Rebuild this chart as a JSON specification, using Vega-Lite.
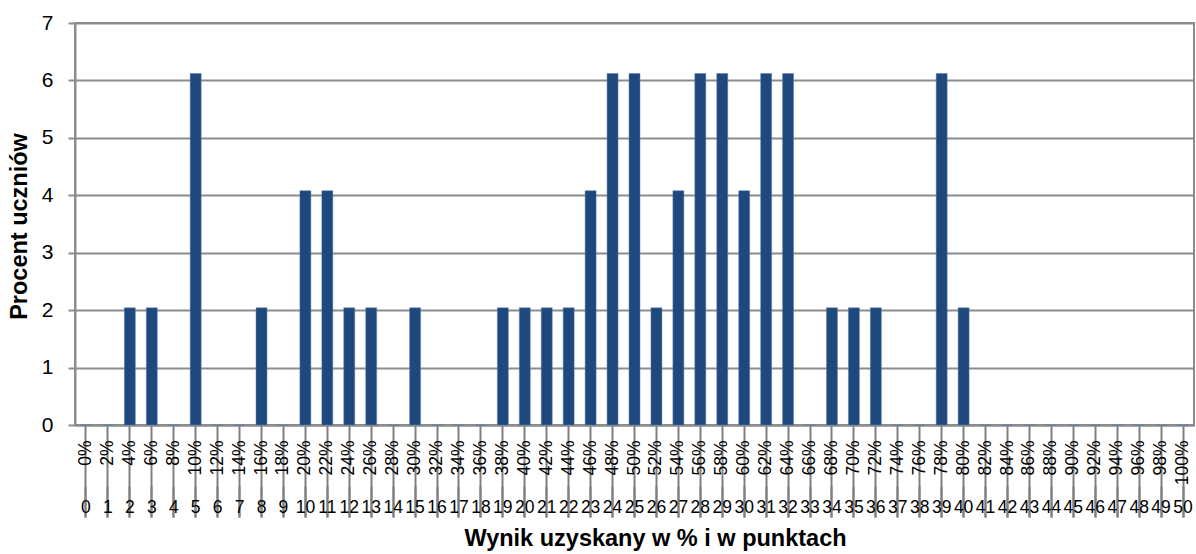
{
  "$schema": "https://vega.github.io/schema/vega-lite/v6.json",
  "autosize": {"type": "none"},
  "padding": {"left": 75, "top": 23, "right": 2, "bottom": 129},
  "width": 1119,
  "height": 402,
  "background": "white",
  "config": {
    "font": "Liberation Sans",
    "view": {"stroke": "#8c8c8c", "strokeWidth": 2},
    "axis": {"labelFont": "Liberation Sans", "titleFont": "Liberation Sans", "labelColor": "black", "titleColor": "black"}
  },
  "data": {"values": [
    {"pkt": 0, "procent": 0}, {"pkt": 1, "procent": 0}, {"pkt": 2, "procent": 2.04}, {"pkt": 3, "procent": 2.04},
    {"pkt": 4, "procent": 0}, {"pkt": 5, "procent": 6.12}, {"pkt": 6, "procent": 0}, {"pkt": 7, "procent": 0},
    {"pkt": 8, "procent": 2.04}, {"pkt": 9, "procent": 0}, {"pkt": 10, "procent": 4.08}, {"pkt": 11, "procent": 4.08},
    {"pkt": 12, "procent": 2.04}, {"pkt": 13, "procent": 2.04}, {"pkt": 14, "procent": 0}, {"pkt": 15, "procent": 2.04},
    {"pkt": 16, "procent": 0}, {"pkt": 17, "procent": 0}, {"pkt": 18, "procent": 0}, {"pkt": 19, "procent": 2.04},
    {"pkt": 20, "procent": 2.04}, {"pkt": 21, "procent": 2.04}, {"pkt": 22, "procent": 2.04}, {"pkt": 23, "procent": 4.08},
    {"pkt": 24, "procent": 6.12}, {"pkt": 25, "procent": 6.12}, {"pkt": 26, "procent": 2.04}, {"pkt": 27, "procent": 4.08},
    {"pkt": 28, "procent": 6.12}, {"pkt": 29, "procent": 6.12}, {"pkt": 30, "procent": 4.08}, {"pkt": 31, "procent": 6.12},
    {"pkt": 32, "procent": 6.12}, {"pkt": 33, "procent": 0}, {"pkt": 34, "procent": 2.04}, {"pkt": 35, "procent": 2.04},
    {"pkt": 36, "procent": 2.04}, {"pkt": 37, "procent": 0}, {"pkt": 38, "procent": 0}, {"pkt": 39, "procent": 6.12},
    {"pkt": 40, "procent": 2.04}, {"pkt": 41, "procent": 0}, {"pkt": 42, "procent": 0}, {"pkt": 43, "procent": 0},
    {"pkt": 44, "procent": 0}, {"pkt": 45, "procent": 0}, {"pkt": 46, "procent": 0}, {"pkt": 47, "procent": 0},
    {"pkt": 48, "procent": 0}, {"pkt": 49, "procent": 0}, {"pkt": 50, "procent": 0}
  ]},
  "layer": [
    {
      "mark": {"type": "bar", "color": "#1F497D", "stroke": "#5b7fb0", "strokeWidth": 0.5},
      "encoding": {
        "x": {
          "field": "pkt", "type": "ordinal",
          "scale": {"paddingInner": 0.5, "paddingOuter": 0.25},
          "axis": {
            "orient": "bottom",
            "title": null,
            "ticks": true,
            "tickBand": "extra",
            "tickSize": 92, "tickColor": "#7f7f7f", "tickWidth": 2,
            "domainColor": "#8c8c8c", "domainWidth": 2,
            "labelAngle": -90, "labelAlign": "right", "labelBaseline": "middle",
            "labelPadding": -77, "labelFontSize": 17.5,
            "labelExpr": "(datum.value * 2) + '%'",
            "labelOverlap": false
          }
        },
        "y": {
          "field": "procent", "type": "quantitative",
          "scale": {"domain": [0, 7], "nice": false},
          "axis": {
            "title": "Procent uczniów",
            "titleFontSize": 23.5, "titleFontWeight": "bold",
            "titleX": -56, "titleY": 203, "titleBaseline": "middle", "titleAlign": "center", "titleAngle": -90,
            "values": [0, 1, 2, 3, 4, 5, 6, 7],
            "format": "d",
            "labelFontSize": 21, "labelPadding": 15,
            "tickSize": 7, "tickColor": "#8c8c8c", "tickWidth": 2,
            "domainColor": "#8c8c8c", "domainWidth": 2,
            "grid": true, "gridColor": "#8c8c8c", "gridWidth": 2
          }
        }
      }
    },
    {
      "mark": {"type": "bar", "opacity": 0},
      "encoding": {
        "x": {
          "field": "pkt", "type": "ordinal",
          "scale": {"paddingInner": 0.5, "paddingOuter": 0.25},
          "axis": {
            "orient": "bottom",
            "title": "Wynik uzyskany w % i w punktach",
            "titleFontSize": 23.5, "titleFontWeight": "bold",
            "titleX": 580, "titleY": 52, "titleBaseline": "middle", "titleAlign": "center",
            "offset": 61,
            "domain": false,
            "ticks": true,
            "tickBand": "extra",
            "tickSize": 31, "tickColor": "#7f7f7f", "tickWidth": 2,
            "labelAngle": 0, "labelAlign": "center", "labelBaseline": "middle",
            "labelPadding": -10, "labelFontSize": 17.5,
            "labelOverlap": false
          }
        },
        "y": {"field": "procent", "type": "quantitative"}
      }
    }
  ],
  "resolve": {"axis": {"x": "independent"}}
}
